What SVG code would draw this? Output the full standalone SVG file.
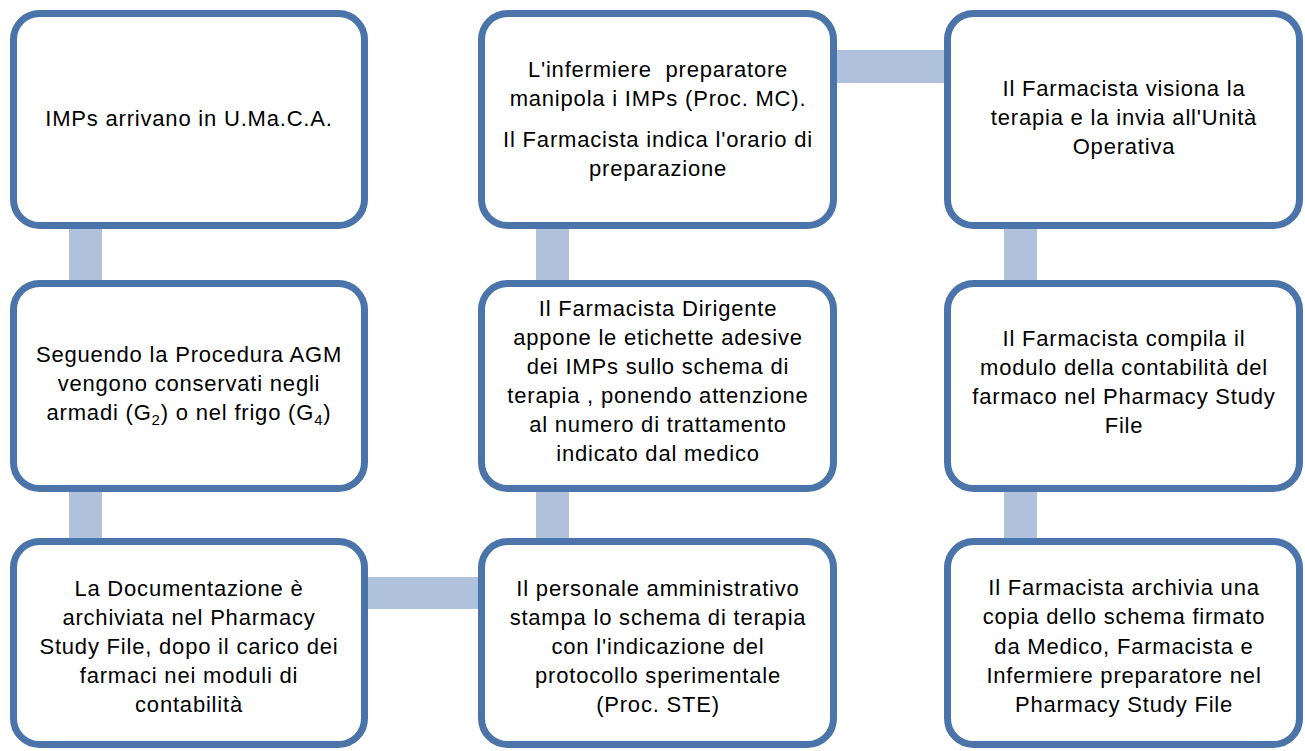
<svg xmlns="http://www.w3.org/2000/svg" width="1305" height="751" viewBox="0 0 1305 751">
<style>
.box{fill:#ffffff;stroke:#4A74AA;stroke-width:7}
.conn{fill:#B0C1DB}
text{font-family:"Liberation Sans","Open Sans",sans-serif;font-size:22px;letter-spacing:0.8px;fill:#000;text-anchor:middle}
</style>
<rect width="1305" height="751" fill="#ffffff"/>
<g id="connectors">
<rect class="conn" x="69" y="226" width="33" height="58"/>
<rect class="conn" x="69" y="489" width="33" height="53"/>
<rect class="conn" x="365" y="577" width="117" height="32"/>
<rect class="conn" x="536" y="226" width="33" height="58"/>
<rect class="conn" x="536" y="489" width="33" height="53"/>
<rect class="conn" x="834" y="50" width="114" height="33"/>
<rect class="conn" x="1004" y="226" width="33" height="58"/>
<rect class="conn" x="1004" y="489" width="33" height="53"/>
</g>
<g id="n1">
<rect class="box" x="13.5" y="13.5" width="351" height="212" rx="26"/>
<text x="189" y="126">IMPs arrivano in U.Ma.C.A.</text>
</g>
<g id="n2">
<rect class="box" x="13.5" y="283.5" width="351" height="205" rx="26"/>
<text x="189" y="362">Seguendo la Procedura AGM</text>
<text x="189" y="391">vengono conservati negli</text>
<text x="189" y="420">armadi (G<tspan font-size="15" dy="5">2</tspan><tspan dy="-5">) o nel frigo (G</tspan><tspan font-size="15" dy="5">4</tspan><tspan dy="-5">)</tspan></text>
</g>
<g id="n3">
<rect class="box" x="13.5" y="541.5" width="351" height="203" rx="26"/>
<text x="189" y="596">La Documentazione è</text>
<text x="189" y="625">archiviata nel Pharmacy</text>
<text x="189" y="654">Study File, dopo il carico dei</text>
<text x="189" y="683">farmaci nei moduli di</text>
<text x="189" y="712">contabilità</text>
</g>
<g id="n4">
<rect class="box" x="481.5" y="541.5" width="352" height="203" rx="26"/>
<text x="658" y="596">Il personale amministrativo</text>
<text x="658" y="625">stampa lo schema di terapia</text>
<text x="658" y="654">con l'indicazione del</text>
<text x="658" y="683">protocollo sperimentale</text>
<text x="658" y="712">(Proc. STE)</text>
</g>
<g id="n5">
<rect class="box" x="481.5" y="283.5" width="352" height="205" rx="26"/>
<text x="658" y="316">Il Farmacista Dirigente</text>
<text x="658" y="345">appone le etichette adesive</text>
<text x="658" y="374">dei IMPs sullo schema di</text>
<text x="658" y="403">terapia , ponendo attenzione</text>
<text x="658" y="432">al numero di trattamento</text>
<text x="658" y="461">indicato dal medico</text>
</g>
<g id="n6">
<rect class="box" x="481.5" y="13.5" width="352" height="212" rx="26"/>
<text x="658" y="77" xml:space="preserve">L'infermiere  preparatore</text>
<text x="658" y="106">manipola i IMPs (Proc. MC).</text>
<text x="658" y="147">Il Farmacista indica l'orario di</text>
<text x="658" y="176">preparazione</text>
</g>
<g id="n7">
<rect class="box" x="947.5" y="13.5" width="352" height="212" rx="26"/>
<text x="1124" y="96">Il Farmacista visiona la</text>
<text x="1124" y="125">terapia e la invia all'Unità</text>
<text x="1124" y="154">Operativa</text>
</g>
<g id="n8">
<rect class="box" x="947.5" y="283.5" width="352" height="205" rx="26"/>
<text x="1124" y="346">Il Farmacista compila il</text>
<text x="1124" y="375">modulo della contabilità del</text>
<text x="1124" y="404">farmaco nel Pharmacy Study</text>
<text x="1124" y="433">File</text>
</g>
<g id="n9">
<rect class="box" x="947.5" y="541.5" width="352" height="203" rx="26"/>
<text x="1124" y="595">Il Farmacista archivia una</text>
<text x="1124" y="624">copia dello schema firmato</text>
<text x="1124" y="654">da Medico, Farmacista e</text>
<text x="1124" y="683">Infermiere preparatore nel</text>
<text x="1124" y="712">Pharmacy Study File</text>
</g>
</svg>
